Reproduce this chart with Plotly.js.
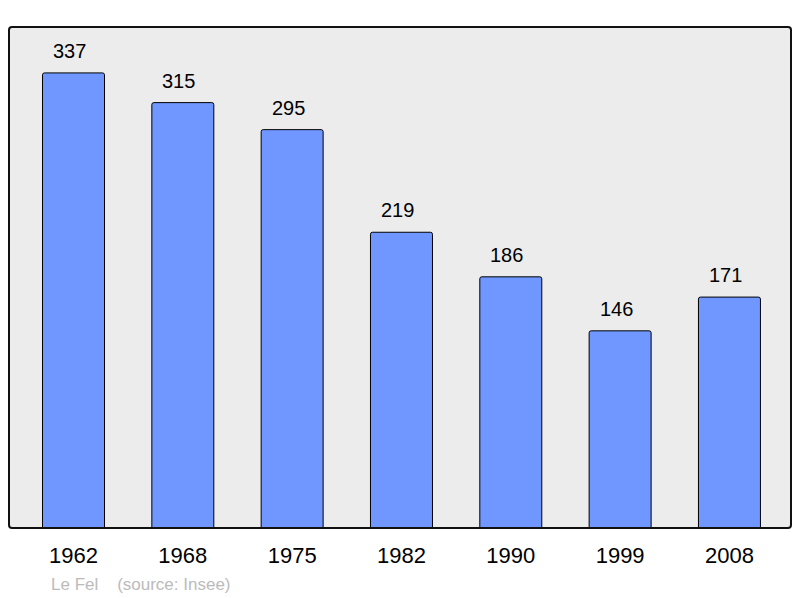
<!DOCTYPE html>
<html><head><meta charset="utf-8">
<script src="https://cdn.plot.ly/plotly-3.0.1.min.js"></script>
<style>html,body{margin:0;padding:0;background:#fff}#c{width:800px;height:598px}</style>
</head><body><div id="c"></div>
<script>
const years = ['1962','1968','1975','1982','1990','1999','2008'];
const population = [337, 315, 295, 219, 186, 146, 171];
const footerText = 'Le Fel&nbsp;&nbsp;&nbsp;&nbsp;(source: Insee)';

const xs = years.map((_, i) => i);
const annotations = years.map((y, i) => ({
  x: i, y: population[i], xref: 'x', yref: 'y',
  text: String(population[i]), showarrow: false,
  yanchor: 'bottom', yshift: 9, xshift: -4,
  font: {family: 'Liberation Sans, Arial, sans-serif', size: 20, color: '#000'}
}));
annotations.push({
  xref: 'paper', yref: 'paper', x: 0.0515, y: -0.113, xanchor: 'left', yanchor: 'middle',
  text: footerText, showarrow: false,
  font: {family: 'Liberation Sans, Arial, sans-serif', size: 17, color: '#bbbbbb'}
});

// rounded frame (radius ~3px in paper units)
const rx = 3 / 782, ry = 3 / 501;
const framePath = `M ${rx},0 L ${1-rx},0 Q 1,0 1,${ry} L 1,${1-ry} Q 1,1 ${1-rx},1 L ${rx},1 Q 0,1 0,${1-ry} L 0,${ry} Q 0,0 ${rx},0 Z`;

Plotly.newPlot('c', [{
  type: 'bar', x: xs, y: population, width: 0.567,
  marker: {color: '#7097ff', line: {color: '#000', width: 1}, cornerradius: 2},
  hoverinfo: 'none'
}], {
  width: 800, height: 598,
  margin: {l: 9, r: 9, t: 27, b: 70},
  paper_bgcolor: '#fff', plot_bgcolor: '#ececec',
  showlegend: false,
  xaxis: {range: [-0.59, 6.563], tickmode: 'array', tickvals: xs, ticktext: years,
    showgrid: false, zeroline: false, showline: false, ticks: '', ticklabelstandoff: 12,
    tickfont: {family: 'Liberation Sans, Arial, sans-serif', size: 22, color: '#000'}},
  yaxis: {range: [0, 371], showgrid: false, zeroline: false, showticklabels: false, ticks: '', showline: false},
  annotations: annotations,
  shapes: [{type: 'path', xref: 'paper', yref: 'paper', path: framePath,
    line: {color: '#111', width: 2}, layer: 'above'}]
}, {staticPlot: true});
</script></body></html>
